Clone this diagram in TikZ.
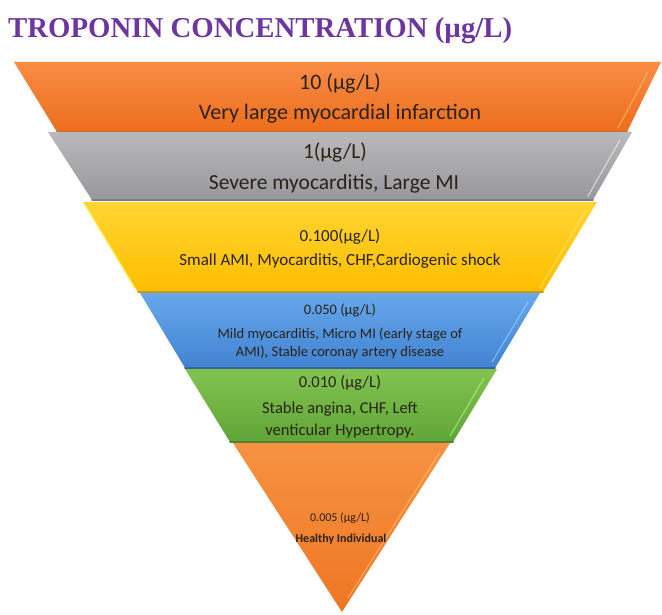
\documentclass[tikz,border=0pt]{standalone}
\usepackage{fontspec}
\setmainfont{Carlito}
\newfontfamily\titlefont{Liberation Serif}
\definecolor{titlepurple}{HTML}{6E35A0}
\definecolor{txt}{HTML}{2A2218}
\tikzset{
  x=1pt,y=-1pt,
  band/.style={draw=none},
  edge/.style={line width=1.6pt,line cap=round},
  hilite/.style={line width=1.2pt,draw=white,opacity=0.55,line cap=round},
  lbl/.style={text=txt,inner sep=0pt,align=center},
}
\begin{document}
\begin{tikzpicture}
\useasboundingbox (0,0) rectangle (662,615);
\fill[white] (0,0) rectangle (662,615);
% title
\node[inner sep=0pt,anchor=west,text=titlepurple,font=\titlefont\bfseries\fontsize{28.8}{30}\selectfont] (title) at (8,31) {TROPONIN CONCENTRATION (µg/L)};
% band 1 orange
\shade[band,top color={rgb,255:red,248;green,140;blue,70},bottom color={rgb,255:red,236;green,110;blue,28}] (14,62) -- (661,62) -- (627,132) -- (57,132) -- cycle;
\draw[edge,draw={rgb,255:red,200;green,95;blue,30}] (57,132) -- (627,132);
\draw[hilite,draw={rgb,255:red,255;green,200;blue,120}] (648,72) -- (618,128);
% band 2 gray
\shade[band,top color={rgb,255:red,185;green,184;blue,186},bottom color={rgb,255:red,152;green,152;blue,156}] (48,132) -- (632,132) -- (593,200) -- (92,200) -- cycle;
\draw[edge,draw={rgb,255:red,125;green,125;blue,130}] (92,200) -- (593,200);
\draw[hilite] (620,140) -- (588,196);
% band 3 yellow
\shade[band,top color={rgb,255:red,255;green,212;blue,50},bottom color={rgb,255:red,253;green,190;blue,0}] (83,202) -- (597,202) -- (543,292) -- (138,292) -- cycle;
\draw[edge,draw={rgb,255:red,200;green,150;blue,20}] (138,292) -- (543,292);
\draw[hilite,draw={rgb,255:red,255;green,240;blue,120}] (585,212) -- (540,288);
\draw[line width=1.2pt,draw={rgb,255:red,255;green,235;blue,60}] (86,206) -- (135,288);
% band 4 blue
\shade[band,top color={rgb,255:red,102;green,168;blue,235},bottom color={rgb,255:red,66;green,130;blue,210}] (140,293) -- (540,293) -- (495,368) -- (185,368) -- cycle;
\draw[edge,draw={rgb,255:red,55;green,100;blue,160}] (185,368) -- (495,368);
\draw[hilite,draw={rgb,255:red,170;green,225;blue,255}] (528,302) -- (492,362);
% band 5 green
\shade[band,top color={rgb,255:red,130;green,195;blue,80},bottom color={rgb,255:red,95;green,165;blue,55}] (185,369) -- (497,369) -- (453,442) -- (230,442) -- cycle;
\draw[edge,draw={rgb,255:red,80;green,130;blue,50}] (230,442) -- (453,442);
\draw[hilite,draw={rgb,255:red,200;green,255;blue,140}] (484,378) -- (450,436);
% band 6 orange triangle
\shade[band,top color={rgb,255:red,246;green,146;blue,66},bottom color={rgb,255:red,238;green,118;blue,35}] (233,443) -- (450,443) -- (342,612) -- cycle;
\draw[hilite,draw={rgb,255:red,255;green,200;blue,130}] (440,452) -- (348,598);
% texts
\node[lbl,font=\fontsize{22}{24}\selectfont] (t1a) at (340,83) {10 (µg/L)};
\node[lbl,font=\fontsize{22}{24}\selectfont] (t1b) at (340,114) {Very large myocardial infarction};
\node[lbl,font=\fontsize{21.5}{24}\selectfont] (t2a) at (335,152) {1(µg/L)};
\node[lbl,font=\fontsize{21.5}{24}\selectfont] (t2b) at (334,184) {Severe myocarditis, Large MI};
\node[lbl,font=\fontsize{17}{20}\selectfont] (t3a) at (340,237) {0.100(µg/L)};
\node[lbl,font=\fontsize{17}{20}\selectfont] (t3b) at (340,261) {Small AMI, Myocarditis, CHF,Cardiogenic shock};
\node[lbl,font=\fontsize{14.5}{18}\selectfont] (t4a) at (340,310) {0.050 (µg/L)};
\node[lbl,font=\fontsize{14.5}{18}\selectfont] (t4b) at (340,343) {Mild myocarditis, Micro MI (early stage of\\AMI), Stable coronay artery disease};
\node[lbl,font=\fontsize{16.5}{24}\selectfont] (t5a) at (340,383) {0.010 (µg/L)};
\node[lbl,font=\fontsize{16.5}{22}\selectfont] (t5b) at (340,420) {Stable angina, CHF, Left\\venticular Hypertropy.};
\node[lbl,font=\fontsize{12}{14}\selectfont] (t6a) at (340,518) {0.005 (µg/L)};
\node[lbl,font=\bfseries\fontsize{12}{14}\selectfont] (t6b) at (341,539) {Healthy Individual};
\end{tikzpicture}
\end{document}
